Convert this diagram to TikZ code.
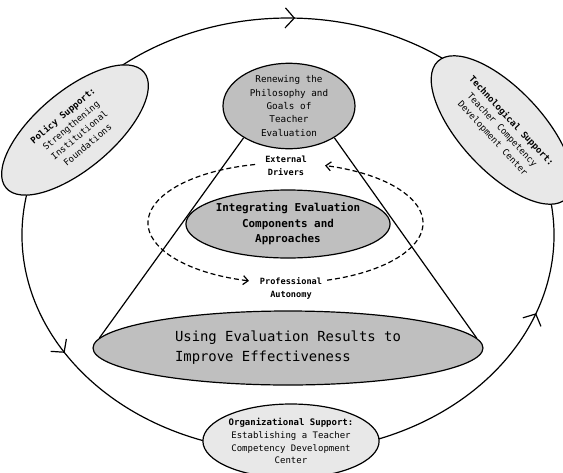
\documentclass[tikz,border=0pt]{standalone}
\usepackage{fontspec}
\setmonofont{DejaVu Sans Mono}
\usetikzlibrary{arrows.meta,shapes.geometric,decorations.markings}
\tikzset{
  barb/.tip={Straight Barb[length=9pt,width=20pt]},
  cyc/.style={line width=1.2pt},
  arrowat/.style={postaction={decorate}, decoration={markings, mark=at position #1 with {\arrow{barb}}}},
  core/.style={ellipse, draw, line width=1.2pt, fill=black!25, inner sep=0pt, align=center},
  pillar/.style={ellipse, draw, line width=1.2pt, fill=black!9, inner sep=0pt, align=center, font=\ttfamily\fontsize{9}{12.8}\selectfont},
  driver/.style={align=center, inner sep=1pt, font=\ttfamily\bfseries\fontsize{8.6}{13}\selectfont},
  swirl/.style={line width=1.2pt, dash pattern=on 5pt off 3pt, -{Straight Barb[length=5pt,width=9pt]}}
}

\begin{document}
\begin{tikzpicture}[x=1pt, y=-1pt]
	%%%%% START %%%%%
	\useasboundingbox (0, 0) rectangle (563, 472);
	\coordinate (hub) at (288, 235);
	\coordinate (swirlc) at (285.5, 223);
	
	% outer cycle
	\draw[cyc, arrowat=0.52] ([shift={(-129:266 and 217)}]hub) arc[start angle=-129, end angle=-51, x radius=266, y radius=217];
	\draw[cyc, arrowat=0.5] ([shift={(191:266 and 217)}]hub) arc[start angle=191, end angle=108, x radius=266, y radius=217];
	\draw[cyc, arrowat=0.63] ([shift={(70.4:266 and 217)}]hub) arc[start angle=70.4, end angle=-11, x radius=266, y radius=217];
	
	\node[pillar, rotate=40, minimum width=180, minimum height=78] (policy) at (75, 130) {{\bfseries Policy Support:}\\Strengthening\\Institutional\\Foundations};
	\node[pillar, rotate=-47, minimum width=188, minimum height=82] (tech) at (502, 130) {{\bfseries Technological Support:}\\Teacher Competency\\Development Center};
	\node[pillar, minimum width=172, minimum height=74] (org) at (291, 441) {{\bfseries Organizational Support:}\\Establishing a Teacher\\Competency Development\\Center};
	
	% inner loop
	\draw[swirl] ([shift={(72.4:137.5 and 60)}]swirlc) arc[start angle=72.4, end angle=-73.3, x radius=137.5, y radius=60];
	\draw[swirl] ([shift={(-102.8:137.5 and 60)}]swirlc) arc[start angle=-102.8, end angle=-254.6, x radius=137.5, y radius=60];
	
	\node[driver] (ext) at (286, 166) {External\\Drivers};
	\node[driver] (prof) at (291, 288) {Professional\\Autonomy};
	
	\node[core, minimum width=202, minimum height=68, font=\ttfamily\bfseries\fontsize{10.9}{15.5}\selectfont] (integ) at (288, 224) {Integrating Evaluation\\Components and\\Approaches};
	\node[core, minimum width=132, minimum height=78, font=\ttfamily\fontsize{9.3}{13.3}\selectfont] (renew) at (289, 106) {Renewing the\\Philosophy and\\Goals of\\Teacher\\Evaluation};
	\node[core, minimum width=390, minimum height=74, align=left, font=\ttfamily\fontsize{13.9}{20}\selectfont] (using) at (288, 348) {Using Evaluation Results to\\Improve Effectiveness};
	
	% cone
	\draw[cyc] (renew.215) -- (using.177);
	\draw[cyc] (renew.325) -- (using.3);
	%%%%% END %%%%%
\end{tikzpicture}
\end{document}
